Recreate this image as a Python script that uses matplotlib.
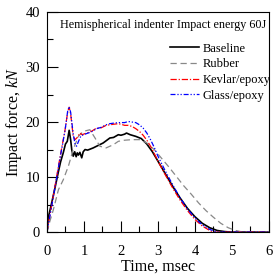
import numpy as np
import matplotlib.pyplot as plt
from matplotlib.ticker import MultipleLocator

t_base = [0.0, 0.04, 0.10, 0.20, 0.31, 0.37, 0.44, 0.50, 0.55, 0.60, 0.64, 0.67, 0.71,
          0.75, 0.79, 0.82, 0.85, 0.89, 0.94, 0.98, 1.03, 1.10, 1.25, 1.40, 1.52, 1.60,
          1.70, 1.80, 1.93, 2.00, 2.10, 2.15, 2.25, 2.40, 2.55, 2.70, 2.85, 3.00,
          3.20, 3.40, 3.60, 3.80, 4.00, 4.20, 4.40, 4.60, 4.80, 5.00, 6.00]
f_base = [0.0, 2.8, 4.5, 7.5, 11.0, 12.8, 14.4, 16.0, 16.5, 18.5, 16.8, 15.0, 13.8,
          14.6, 13.7, 14.4, 14.0, 14.5, 13.5, 14.6, 15.0, 14.9, 15.3, 15.8, 16.2, 16.6,
          17.1, 17.2, 17.7, 17.6, 17.8, 18.0, 17.7, 17.4, 17.0, 16.0, 14.6, 12.9,
          10.6, 8.3, 6.2, 4.3, 2.8, 1.6, 0.8, 0.3, 0.1, 0.0, 0.0]

t_rub = [0.0, 0.08, 0.17, 0.31, 0.44, 0.58, 0.71, 0.85, 0.98, 1.16, 1.30, 1.43,
         1.60, 1.80, 1.93, 2.10, 2.30, 2.50, 2.70, 2.90, 3.10, 3.30,
         3.50, 3.70, 3.90, 4.10, 4.30, 4.50, 4.70, 4.90, 5.10, 5.30, 6.00]
f_rub = [0.0, 2.0, 4.0, 7.7, 9.5, 12.0, 15.0, 17.4, 18.3, 18.6, 17.1, 15.6,
         15.3, 15.9, 16.5, 16.7, 16.8, 16.8, 16.2, 15.0, 13.4, 11.8,
         10.1, 8.4, 6.9, 5.3, 3.9, 2.7, 1.6, 0.8, 0.3, 0.0, 0.0]

t_kev = [0.0, 0.05, 0.17, 0.35, 0.49, 0.56, 0.60, 0.64, 0.71, 0.76, 0.82,
         0.89, 0.95, 1.07, 1.20, 1.34, 1.45, 1.60, 1.70, 1.80, 1.93, 2.00,
         2.10, 2.20, 2.30, 2.40, 2.50, 2.60, 2.70, 2.80, 2.90, 3.00, 3.20, 3.40, 3.60,
         3.80, 4.00, 4.20, 4.40, 4.50, 6.00]
f_kev = [0.0, 2.0, 6.5, 13.5, 18.6, 21.8, 22.7, 21.5, 17.4, 16.8, 17.2,
         18.0, 17.7, 18.0, 18.3, 18.9, 18.9, 19.4, 19.5, 19.6, 19.7, 19.6,
         19.4, 19.4, 19.2, 18.8, 18.3, 17.6, 16.7, 15.6, 14.3, 12.9, 10.4, 8.0, 5.8,
         3.9, 2.3, 1.1, 0.3, 0.0, 0.0]

t_gla = [0.0, 0.05, 0.17, 0.35, 0.49, 0.56, 0.60, 0.64, 0.71, 0.76, 0.80,
         0.86, 0.92, 1.07, 1.20, 1.34, 1.45, 1.60, 1.70, 1.80, 1.93, 2.00,
         2.10, 2.20, 2.30, 2.40, 2.50, 2.60, 2.70, 2.80, 2.90, 3.00, 3.20, 3.40, 3.60,
         3.80, 4.00, 4.20, 4.40, 4.60, 6.00]
f_gla = [0.0, 1.8, 6.3, 13.3, 18.5, 22.0, 22.8, 21.8, 17.8, 16.0, 15.6,
         16.6, 17.5, 17.9, 18.2, 18.8, 19.0, 19.5, 19.7, 19.8, 19.9, 19.9,
         19.9, 20.1, 20.0, 19.9, 19.5, 18.9, 18.0, 16.8, 15.4, 13.8, 11.1, 8.6, 6.2,
         4.2, 2.6, 1.3, 0.5, 0.0, 0.0]

plt.rcParams['font.family'] = 'Liberation Serif'
plt.rcParams['mathtext.fontset'] = 'custom'
plt.rcParams['mathtext.it'] = 'Liberation Serif:italic'
plt.rcParams['mathtext.rm'] = 'Liberation Serif'

fig = plt.figure(figsize=(2.73, 2.78), dpi=100)
ax = fig.add_axes([0.172, 0.165, 0.813, 0.792])

ax.plot(t_base, f_base, color='black', lw=1.2, label='Baseline')
ax.plot(t_rub, f_rub, color='#888888', lw=0.9, ls=(0, (5, 3)), label='Rubber')
ax.plot(t_kev, f_kev, color='red', lw=0.9, ls=(0, (5, 1.5, 1, 1.5)), label='Kevlar/epoxy')
ax.plot(t_gla, f_gla, color='blue', lw=0.9, ls=(0, (4, 1.5, 1, 1.5, 1, 1.5)), label='Glass/epoxy')

ax.set_xlim(0, 6)
ax.set_ylim(0, 40)
ax.xaxis.set_major_locator(MultipleLocator(1))
ax.xaxis.set_minor_locator(MultipleLocator(0.5))
ax.yaxis.set_major_locator(MultipleLocator(10))
ax.yaxis.set_minor_locator(MultipleLocator(5))
ax.tick_params(which='major', direction='in', length=8, width=0.8, labelsize=10.5)
ax.tick_params(which='minor', direction='in', length=4, width=0.8)
ax.tick_params(axis='x', pad=9)
ax.tick_params(axis='y', pad=5)

ax.set_xlabel('Time, msec', fontsize=11.5, labelpad=1)
ax.set_ylabel('Impact force, $k$$N$', fontsize=11.5, labelpad=1)

ax.text(0.06, 0.94, 'Hemispherical indenter Impact energy 60J',
        transform=ax.transAxes, fontsize=8.7, va='center', ha='left')
ax.legend(loc='upper right', bbox_to_anchor=(1.04, 0.895), frameon=False,
          fontsize=9, handlelength=2.3, handletextpad=0.3, labelspacing=0.3,
          borderaxespad=0.2)

fig.savefig('out.png', dpi=100)
